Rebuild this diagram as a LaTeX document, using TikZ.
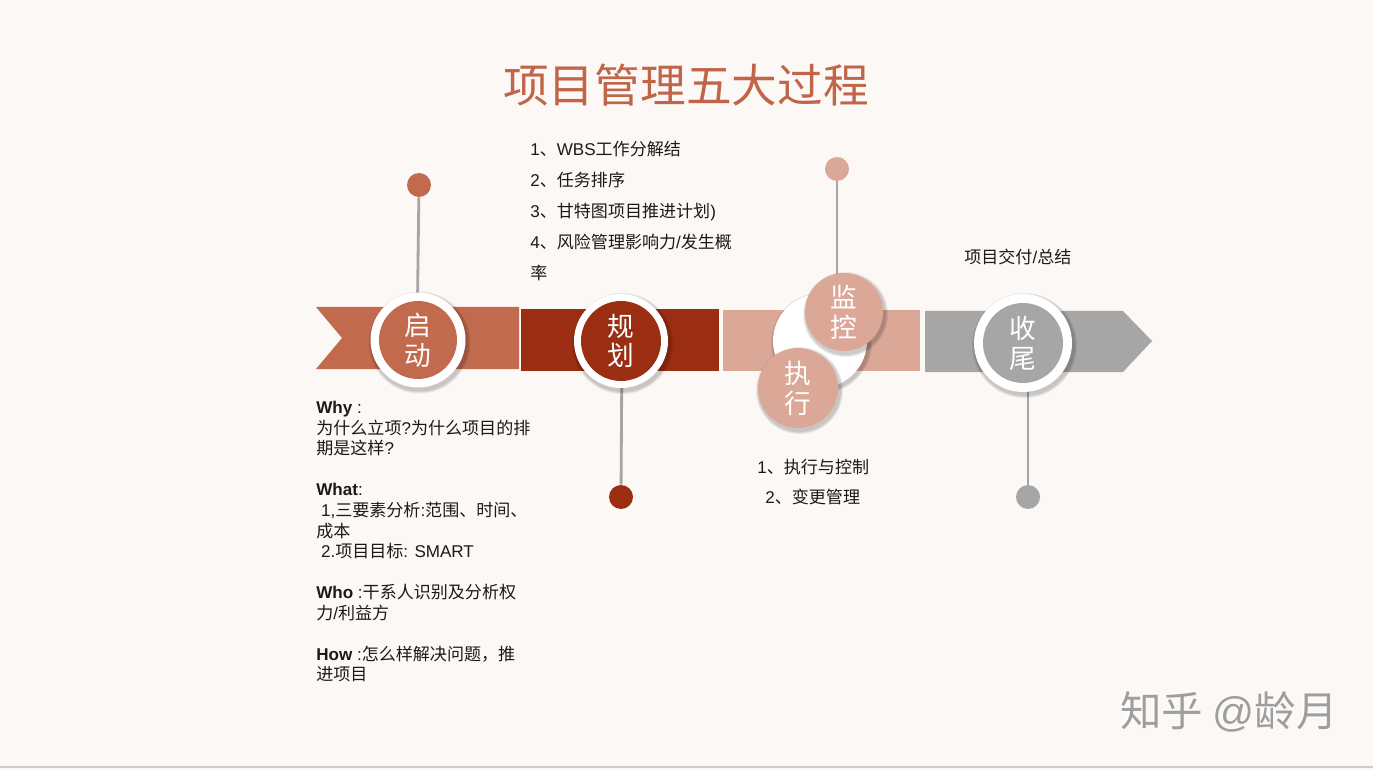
\documentclass[tikz,border=0pt]{standalone}
\usepackage{fontspec}
\setmainfont{Noto Sans CJK SC}
\newfontfamily\lat{Liberation Sans}
\definecolor{bg}{HTML}{FCF8F5}
\definecolor{cA}{HTML}{C26A4E}
\definecolor{cB}{HTML}{9B2D12}
\definecolor{cC}{HTML}{DBA898}
\definecolor{cD}{HTML}{A6A6A6}
\definecolor{stem}{HTML}{A6A6A6}
\definecolor{ttl}{HTML}{C0654A}
\definecolor{txt}{HTML}{1A1A1A}
\tikzset{
  ring/.style={circle,fill=white,inner sep=0pt},
  disc/.style={circle,inner sep=0pt,text=white,align=center,font=\fontsize{15.2}{17}\selectfont},
  dot/.style={circle,inner sep=0pt,minimum size=0.48cm},
  stemline/.style={draw=stem,line width=1.6pt},
  body/.style={inner sep=0pt,text=txt,align=left,font=\fontsize{9.7}{11.7}\selectfont},
  shade/.style={circle,fill=black,opacity=0.07,inner sep=0pt}
}
\begin{document}
\begin{tikzpicture}[x=0.02cm,y=-0.02cm]
\fill[bg] (0,0) rectangle (1373,770);
\useasboundingbox (0,0) rectangle (1373,770);
\draw[draw=black!20,line width=1pt] (0,767) -- (1373,767);
% title
\node[text=ttl,font=\fontsize{26}{30}\selectfont,inner sep=0pt] (title) at (686,85) {项目管理五大过程};
% bands
\fill[cA] (316,307) -- (519,307) -- (519,369) -- (316,369) -- (342,338) -- cycle;
\fill[cB] (521,309) rectangle (719,371);
\fill[cC] (723,310) rectangle (920,371);
\fill[cD] (925,311) -- (1123,311) -- (1152,341) -- (1123,372) -- (925,372) -- cycle;
% dots
\node[dot,fill=cA] (dA) at (419,185) {};
\node[dot,fill=cB] (dB) at (621,497) {};
\node[dot,fill=cC] (dC) at (837,169) {};
\node[dot,fill=cD] (dD) at (1028,497) {};
% circle 1
\coordinate (cA0) at (418,340);
\foreach \r in {2.04,2.00,1.96} \node[shade,minimum size=\r cm] at (419.5,342.5) {};
\draw[stemline] (dA) -- (417,340);
\node[ring,minimum size=1.9cm] (rA) at (cA0) {};
\node[disc,fill=cA,minimum size=1.56cm] (kA) at (cA0) {启\\动};
% circle 2
\coordinate (cB0) at (621,341);
\draw[stemline] (dB) -- (622,341);
\foreach \r in {2.02,1.98,1.94} \node[shade,minimum size=\r cm] at (622.5,343.5) {};
\node[ring,minimum size=1.88cm] (rB) at (cB0) {};
\node[disc,fill=cB,minimum size=1.6cm] (kB) at (cB0) {规\\划};
% middle
\coordinate (cW0) at (820,341);
\foreach \r in {2.02,1.98,1.94} \node[shade,minimum size=\r cm] at (821.5,343) {};
\node[ring,minimum size=1.88cm] (rC) at (cW0) {};
\draw[stemline] (dC) -- (837,300);
\foreach \r in {1.70,1.66,1.62} \node[shade,minimum size=\r cm] at (845.5,314.5) {};
\node[disc,fill=cC,minimum size=1.56cm] (kC) at (844,312) {监\\控};
\foreach \r in {1.74,1.70,1.66} \node[shade,minimum size=\r cm] at (799.5,390.5) {};
\node[disc,fill=cC,minimum size=1.6cm] (kE) at (798,388) {执\\行};
% circle 4
\coordinate (cD0) at (1023,343);
\draw[stemline] (dD) -- (1028,343);
\foreach \r in {2.1,2.06,2.02} \node[shade,minimum size=\r cm] at (1024.5,345.5) {};
\node[ring,minimum size=1.96cm] (rD) at (cD0) {};
\node[disc,fill=cD,minimum size=1.6cm] (kD) at (cD0) {收\\尾};
% texts
\node[body,anchor=north west,font=\fontsize{9.7}{17.6}\selectfont] (plan) at (530,141) {%
{\lat 1}、{\lat WBS}工作分解结\\
{\lat 2}、任务排序\\
{\lat 3}、甘特图项目推进计划{\lat )}\\
{\lat 4}、风险管理影响力{\lat /}发生概\\
率};
\node[body,anchor=north west] (left) at (316,401) {%
{\lat\bfseries Why}{\lat\ :}\\
为什么立项{\lat ?}为什么项目的排\\
期是这样{\lat ?}\\
\mbox{}\\
{\lat\bfseries What}{\lat :}\\
{\lat\ 1,}三要素分析{\lat :}范围、时间、\\
成本\\
{\lat\ 2.}项目目标{\lat : SMART}\\
\mbox{}\\
{\lat\bfseries Who}{\lat\ :}干系人识别及分析权\\
力{\lat /}利益方\\
\mbox{}\\
{\lat\bfseries How}{\lat\ :}怎么样解决问题，推\\
进项目};
\node[body,anchor=west] (exe1) at (757,467) {{\lat 1}、执行与控制};
\node[body,anchor=west] (exe2) at (765,497) {{\lat 2}、变更管理};
\node[body,anchor=west] (close) at (964,257) {项目交付{\lat /}总结};
% watermark
\node[text=white,font=\fontsize{23.6}{26}\selectfont,inner sep=0pt,anchor=west] (wm0) at (1118.5,710.5) {知乎 {\lat @}龄月};
\node[text=black!38,font=\fontsize{23.6}{26}\selectfont,inner sep=0pt,anchor=west] (wm) at (1120,712) {知乎 {\lat @}龄月};
\end{tikzpicture}
\end{document}
